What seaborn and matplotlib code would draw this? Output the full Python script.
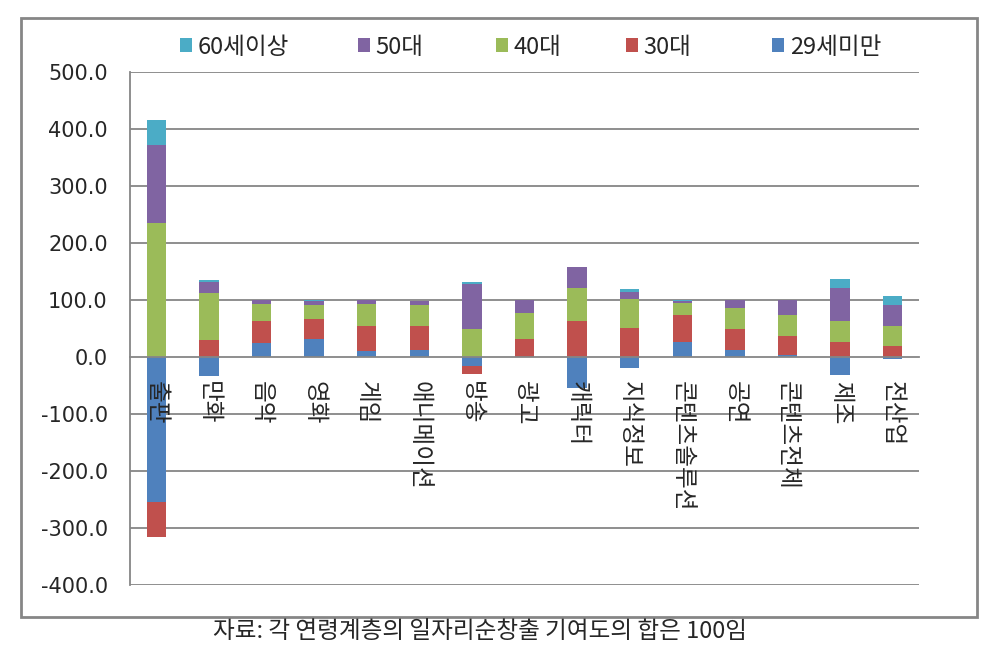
import numpy as np
import pandas as pd
import matplotlib
matplotlib.use("Agg")
import matplotlib.pyplot as plt
from matplotlib.patches import Rectangle, Patch
from matplotlib.ticker import FuncFormatter, FixedLocator
import seaborn as sns

# ---- data ----
categories = ['출판', '만화', '음악', '영화', '게임', '애니메이션', '방송', '광고',
              '캐릭터', '지식정보', '콘텐츠솔루션', '공연', '콘텐츠전체', '제조', '전산업']
under29 = [-255, -34, 24, 32, 10, 12, -16, 0, -55, -19, 27, 13, 4, -31, -4]
age30s = [-60, 30, 39, 34, 45, 42, -14.5, 31, 63, 51, 46.5, 36, 33.5, 27, 19.6]
age40s = [235.5, 82, 29.5, 25, 37.5, 36.5, 48.6, 46, 57.8, 50, 21.5, 36.5, 36, 36, 35.4]
age50s = [137, 20, 7.5, 8, 7.5, 7.5, 80, 22.5, 36.5, 13, 4, 15, 26.5, 58, 37]
over60 = [44, 3, 0.5, 1, 0, 1, 3, 0, 0, 5, 1, 0, 0, 15, 14.4]
series_names = ['29세미만', '30대', '40대', '50대', '60세이상']
legend_order = ['60세이상', '50대', '40대', '30대', '29세미만']
y_ticks = [500, 400, 300, 200, 100, 0, -100, -200, -300, -400]
caption = '자료: 각 연령계층의 일자리순창출 기여도의 합은 100임'

df = pd.DataFrame({'category': categories, '29세미만': under29, '30대': age30s,
                   '40대': age40s, '50대': age50s, '60세이상': over60})

colors = {'29세미만': '#4F81BD', '30대': '#C0504D', '40대': '#9BBB59',
          '50대': '#8064A2', '60세이상': '#4BACC6'}

sns.set_theme(style='white')
plt.rcParams['font.family'] = ['Noto Sans CJK KR', 'DejaVu Sans']
plt.rcParams['axes.unicode_minus'] = False

fig = plt.figure(figsize=(9.84, 6.58), dpi=100)
ax = fig.add_axes([130 / 984, 1 - 585 / 658, (919 - 130) / 984, (585 - 72) / 658])

x = np.arange(len(categories))
pos_bottom = np.zeros(len(categories))
neg_bottom = np.zeros(len(categories))
for name in series_names:
    vals = df[name].to_numpy(dtype=float)
    bottoms = np.where(vals >= 0, pos_bottom, neg_bottom)
    ax.bar(x, vals, width=0.37, bottom=bottoms, color=colors[name],
           linewidth=0, zorder=2)
    pos_bottom += np.where(vals >= 0, vals, 0)
    neg_bottom += np.where(vals < 0, vals, 0)

grid_c = '#868686'
ax.set_ylim(-400, 500)
ax.set_xlim(-0.5, len(categories) - 0.5)
ax.set_yticks(y_ticks)
ax.yaxis.set_major_formatter(FuncFormatter(lambda v, p: f'{v:.1f}'))
for yt in y_ticks:
    if yt != 0:
        ax.axhline(yt, color=grid_c, lw=1.3, zorder=1)

for s in ['top', 'right']:
    ax.spines[s].set_visible(False)
ax.spines['left'].set_color(grid_c)
ax.spines['left'].set_linewidth(1.3)
ax.spines['bottom'].set_position(('data', 0))
ax.spines['bottom'].set_color(grid_c)
ax.spines['bottom'].set_linewidth(1.3)
ax.spines['bottom'].set_zorder(4)

ax.set_xticks(x)
ax.set_xticklabels(categories, rotation=-90, va='top', ha='center', fontsize=17)
ax.tick_params(axis='x', which='major', length=0, pad=17)
ax.xaxis.set_minor_locator(FixedLocator(np.arange(-0.5, len(categories), 1.0)))
ax.tick_params(axis='x', which='minor', direction='out', length=5, width=1.2, color=grid_c)
ax.tick_params(axis='y', direction='out', length=6, width=1.2, color=grid_c, pad=10)
for lab in ax.get_yticklabels():
    lab.set_fontfamily('DejaVu Sans')
    lab.set_fontsize(15)
ax.xaxis.set_zorder(5)
ax.set_xlabel('')
ax.set_ylabel('')
ax.set_facecolor('white')

# legend entries placed like the reference
legend_x = [180, 358, 496, 626, 772]
for name, lx in zip(legend_order, legend_x):
    fig.legend([Patch(facecolor=colors[name], edgecolor='none')], [name],
               loc='center left', bbox_to_anchor=(lx / 984, 1 - 47 / 658),
               frameon=False, fontsize=17, handlelength=0.5, handleheight=0.5,
               handletextpad=0.25, borderpad=0, borderaxespad=0)

# outer frame
fig.patches.append(Rectangle((21 / 984, 1 - 617 / 658), 956 / 984, 599 / 658,
                             transform=fig.transFigure, fill=False,
                             edgecolor=grid_c, linewidth=2))

fig.text(480 / 984, 1 - 632 / 658, caption, ha='center', va='center', fontsize=17)

fig.savefig('out.png', dpi=100, facecolor='white')
